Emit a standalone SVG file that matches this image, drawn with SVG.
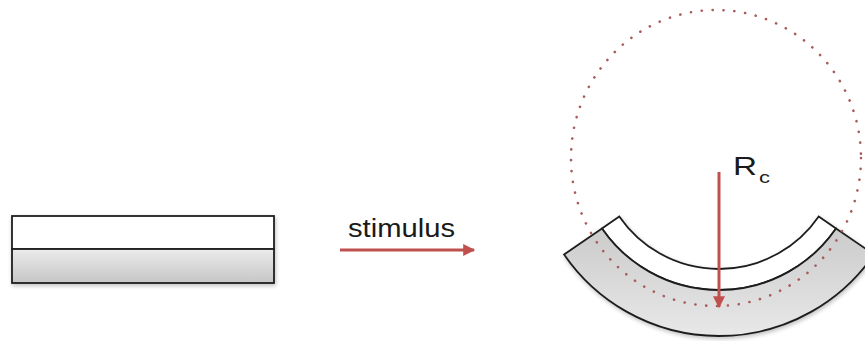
<svg xmlns="http://www.w3.org/2000/svg" width="865" height="341" viewBox="0 0 865 341">
  <style>
    .layer { stroke: #1e1e1e; stroke-width: 1.8; stroke-linejoin: miter; }
    .white { fill: #ffffff; }
    .red { stroke: #c0504d; stroke-width: 3; fill: none; }
    .lbl { font-family: "Liberation Sans", Arial, sans-serif; fill: #1a1a1a; }
  </style>
  <defs>
    <linearGradient id="gFlat" x1="0" y1="0" x2="0" y2="1">
      <stop offset="0" stop-color="#ebebeb"/>
      <stop offset="1" stop-color="#c6c6c6"/>
    </linearGradient>
    <linearGradient id="gBent" x1="0" y1="0" x2="0" y2="1">
      <stop offset="0" stop-color="#cbcbcb"/>
      <stop offset="1" stop-color="#e8e8e8"/>
    </linearGradient>
    <filter id="shadow" x="-10%" y="-10%" width="120%" height="130%">
      <feGaussianBlur in="SourceAlpha" stdDeviation="2"/>
      <feOffset dx="1" dy="2" result="b"/>
      <feComponentTransfer><feFuncA type="linear" slope="0.25"/></feComponentTransfer>
      <feMerge><feMergeNode/><feMergeNode in="SourceGraphic"/></feMerge>
    </filter>
    <marker id="arrowHead" viewBox="0 0 10 10" refX="9" refY="5" markerWidth="5" markerHeight="4" markerUnits="strokeWidth" orient="auto">
      <path d="M0,0 L10,5 L0,10 Z" fill="#c0504d"/>
    </marker>
  </defs>

  <g id="flat-bilayer" filter="url(#shadow)">
    <rect class="layer white" x="12" y="216" width="262" height="33"/>
    <rect class="layer" x="12" y="249" width="262" height="34" fill="url(#gFlat)"/>
  </g>

  <g id="bent-bilayer" filter="url(#shadow)">
    <path class="layer white" d="M619.28,216.53 A121,121 0 0 0 818.72,216.53 L836.02,228.43 A142,142 0 0 1 601.98,228.43 Z"/>
    <path class="layer" fill="url(#gBent)" d="M601.98,228.43 A142,142 0 0 0 836.02,228.43 L873.93,254.48 A188,188 0 0 1 564.07,254.48 Z"/>
  </g>

  <g id="curvature-circle">
    <ellipse cx="716" cy="158" rx="145" ry="148" fill="none" stroke="#a85c5c" stroke-width="2.6" stroke-dasharray="0.1 10.8" stroke-linecap="round"/>
  </g>

  <g id="connectors">
    <line class="red" x1="340" y1="250" x2="474" y2="250" marker-end="url(#arrowHead)"/>
    <line class="red" x1="719" y1="172" x2="719" y2="307" marker-end="url(#arrowHead)"/>
  </g>

  <g id="labels">
    <text class="lbl" x="348" y="237" font-size="26" textLength="107" lengthAdjust="spacingAndGlyphs">stimulus</text>
    <text class="lbl" x="733" y="175" font-size="25" textLength="24" lengthAdjust="spacingAndGlyphs">R</text>
    <text class="lbl" x="759" y="183" font-size="17" textLength="11" lengthAdjust="spacingAndGlyphs">c</text>
  </g>
</svg>
